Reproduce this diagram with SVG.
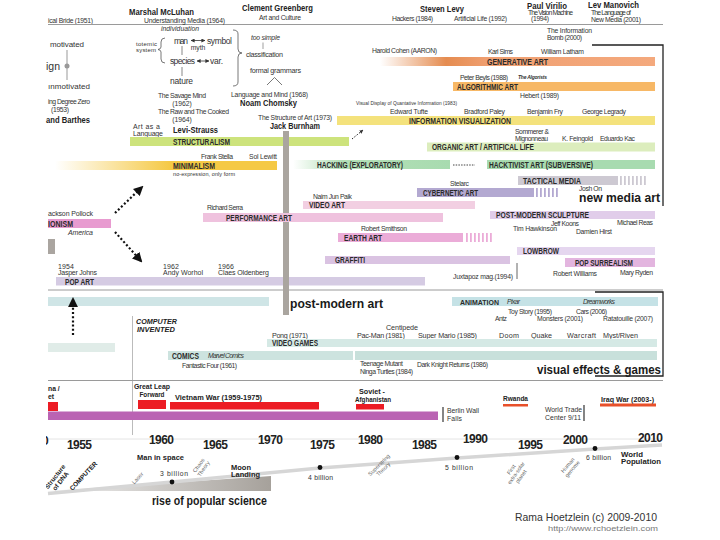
<svg xmlns="http://www.w3.org/2000/svg" width="720" height="540" viewBox="0 0 720 540">
<defs>
<style>
text{font-family:"Liberation Sans",Arial,sans-serif;fill:#333}
.s{font-size:6.8px}
.xs{font-size:5.5px}
.m{font-size:8px}
.b{font-weight:bold}
.i{font-style:italic}
.h{font-size:9.5px;font-weight:bold;fill:#222}
.bl{font-size:8.8px;font-weight:bold;fill:#2a2a2a}
.big{font-size:13.5px;font-weight:bold;fill:#1a1a1a}
.yr{font-size:12px;font-weight:bold;fill:#222}
.g{fill:#666}
.sep{stroke:#9a9a9a;stroke-width:1}
.box{fill:none;stroke:#222;stroke-width:1.3}
.dash{fill:none;stroke:#111;stroke-width:2.2;stroke-dasharray:2 2.2}
.thin{stroke:#555;stroke-width:0.8;fill:none}
.red{fill:#ec1c24}
.dot{fill:#111}
.ev{font-size:6.8px;font-weight:bold;fill:#222}
</style>
<marker id="tri" viewBox="0 0 10 10" refX="8" refY="5" markerWidth="4.5" markerHeight="4.5" orient="auto"><path d="M0,0 L10,5 L0,10 z" fill="#111"/></marker>
<marker id="sm" viewBox="0 0 10 10" refX="9" refY="5" markerWidth="4" markerHeight="4" markerUnits="userSpaceOnUse" orient="auto-start-reverse"><path d="M0,0 L10,5 L0,10 z" fill="#333"/></marker>
<linearGradient id="gMin" x1="0" x2="1" y1="0" y2="0"><stop offset="0" stop-color="#fff"/><stop offset="0.52" stop-color="#f5c945"/><stop offset="1" stop-color="#f5c945"/></linearGradient>
<linearGradient id="gHack" x1="0" x2="1" y1="0" y2="0"><stop offset="0" stop-color="#fff"/><stop offset="0.3" stop-color="#b4e0b7"/><stop offset="1" stop-color="#a8dbb0"/></linearGradient>
<linearGradient id="gGen" x1="0" x2="1" y1="0" y2="0"><stop offset="0" stop-color="#fff"/><stop offset="0.24" stop-color="#e58c50"/><stop offset="0.4" stop-color="#f0a072"/><stop offset="1" stop-color="#f4a97d"/></linearGradient>
<linearGradient id="gSci" x1="0" x2="1" y1="0" y2="0"><stop offset="0" stop-color="#f2f2f2"/><stop offset="1" stop-color="#a6a19b"/></linearGradient>
<clipPath id="frame"><rect x="46" y="0" width="674" height="540"/></clipPath>
</defs>
<rect width="720" height="540" fill="#fff"/>

<g id="header">
<text class="s" x="48" y="22.5" textLength="45">ical Bride (1951)</text>
<line class="sep" x1="48" y1="24.5" x2="663" y2="24.5" stroke="#888"/>
<text class="h" x="129" y="15" textLength="65" lengthAdjust="spacingAndGlyphs">Marshal McLuhan</text>
<text class="s" x="144" y="22.5" textLength="81">Understanding Media (1964)</text>
<text class="s i" x="161" y="31" textLength="38">individuation</text>
<text class="h" x="242" y="10.5" textLength="71" lengthAdjust="spacingAndGlyphs">Clement Greenberg</text>
<text class="s" x="259" y="20" textLength="42">Art and Culture</text>
<text class="h" x="420" y="11.5" textLength="44" lengthAdjust="spacingAndGlyphs">Steven Levy</text>
<text class="s" x="392" y="21" textLength="41">Hackers (1984)</text>
<text class="s" x="454" y="21" textLength="53">Artificial Life (1992)</text>
<text class="h" x="527" y="8.5" textLength="40" lengthAdjust="spacingAndGlyphs">Paul Virilio</text>
<text class="s" x="528" y="15" textLength="45">The Vision Machine</text>
<text class="s" x="531" y="21" textLength="18">(1994)</text>
<text class="h" x="588" y="8.3" textLength="51" lengthAdjust="spacingAndGlyphs">Lev Manovich</text>
<text class="s" x="591" y="15.3" textLength="40">The Language of</text>
<text class="s" x="591" y="22.3" textLength="50">New Media (2001)</text>
<text class="s" x="547" y="32.5" textLength="45">The Information</text>
<text class="s" x="547" y="39.5" textLength="35">Bomb (2000)</text>
</g>

<g id="semiotics">
<text class="m" x="50" y="47.3" textLength="34">motivated</text>
<text x="46" y="69.5" style="font-size:10.5px" textLength="14">ign</text>
<line x1="67" y1="50" x2="67" y2="80" stroke="#999" stroke-width="1"/>
<circle cx="67" cy="66" r="2.5" fill="#999"/>
<text class="m" x="48" y="89" textLength="42">ınmotivated</text>
<text class="s" x="48" y="103.5" textLength="42">ing Degree Zero</text>
<text class="s" x="51" y="111.5" textLength="18">(1953)</text>
<text class="h" x="46" y="122.5" textLength="44" lengthAdjust="spacingAndGlyphs">and Barthes</text>
</g>

<g id="levi-strauss">
<text style="font-size:6px" x="136" y="45.5" textLength="21">totemic</text>
<text style="font-size:6px" x="136" y="51.5" textLength="20">system</text>
<path class="thin" d="M165,38 Q161,38 161,42 L161,47 Q161,49 158,49.5 Q161,50 161,52 L161,59 Q161,63 165,63"/>
<text style="font-size:8.5px" x="174" y="43.5" textLength="14">man</text>
<line x1="191" y1="40.5" x2="205" y2="40.5" stroke="#333" stroke-width="0.8" marker-start="url(#sm)" marker-end="url(#sm)"/>
<text style="font-size:8.5px" x="207" y="43.5" textLength="25">symbol</text>
<text class="s" x="198" y="50.3" text-anchor="middle">myth</text>
<line x1="182" y1="46" x2="182" y2="55" stroke="#555" stroke-width="0.7"/>
<text style="font-size:8.5px" x="170" y="64" textLength="25">species</text>
<line x1="197" y1="61" x2="209" y2="61" stroke="#333" stroke-width="0.8" marker-start="url(#sm)" marker-end="url(#sm)"/>
<text style="font-size:8.5px" x="210" y="64" textLength="13">var.</text>
<line x1="182" y1="67" x2="182" y2="76" stroke="#555" stroke-width="0.7"/>
<text style="font-size:8.5px" x="170" y="84" textLength="23">nature</text>
<path class="thin" d="M233,30 Q238,30 238,34 L238,49 Q238,53 242,53 Q238,53 238,57 L238,82 Q238,86 233,86"/>
<text class="s" x="158" y="97.5" textLength="48">The Savage Mind</text>
<text class="s" x="182" y="105.5" text-anchor="middle">(1962)</text>
<text class="s" x="158" y="114" textLength="71">The Raw and The Cooked</text>
<text class="s" x="182" y="121.8" text-anchor="middle">(1964)</text>
<text style="font-size:7px" x="133" y="129" textLength="27">Art as a</text>
<text style="font-size:7px" x="133" y="135.8" textLength="30">Language</text>
<text class="h" x="173" y="132.5" textLength="45" lengthAdjust="spacingAndGlyphs">Levi-Strauss</text>
<rect x="130" y="137" width="219" height="9" fill="#cde37c"/>
<text class="bl" x="173" y="145" textLength="57" lengthAdjust="spacingAndGlyphs">STRUCTURALISM</text>
</g>

<g id="greenberg">
<text class="s i" x="251" y="40" textLength="29">too simple</text>
<line x1="263" y1="42.5" x2="263" y2="49" stroke="#777" stroke-width="0.7"/>
<text style="font-size:7.2px" x="246" y="56.5" textLength="37">classification</text>
<text style="font-size:7.2px" x="250" y="72.5" textLength="51">formal grammars</text>
<path class="thin" d="M267,85 L274.5,77.5 L282,85"/>
<text class="s" x="231" y="96.5" textLength="77">Language and Mind (1968)</text>
<text class="h" x="240" y="106" textLength="57" lengthAdjust="spacingAndGlyphs">Noam Chomsky</text>
<text class="s" x="295" y="120" text-anchor="middle" textLength="74">The Structure of Art (1973)</text>
<text class="h" x="295" y="129" text-anchor="middle" textLength="50" lengthAdjust="spacingAndGlyphs">Jack Burnham</text>
</g>

<g id="minimalism">
<rect x="55" y="161" width="222" height="9" fill="url(#gMin)"/>
<text class="bl" x="173" y="168.8" textLength="42" lengthAdjust="spacingAndGlyphs">MINIMALISM</text>
<text style="font-size:5.5px" x="173" y="176" textLength="62">no-expression, only form</text>
<text class="s" x="201" y="158.5" textLength="32">Frank Stella</text>
<text class="s" x="249" y="158.5" textLength="28">Sol Lewitt</text>
</g>

<g id="generative">
<rect x="380" y="57" width="275" height="9" fill="url(#gGen)"/>
<text class="bl" x="487" y="64.8" textLength="61" lengthAdjust="spacingAndGlyphs">GENERATIVE ART</text>
<text class="s" x="372" y="53.3" textLength="65">Harold Cohen (AARON)</text>
<text class="s" x="488" y="54.3" textLength="25">Karl Sims</text>
<text class="s" x="541" y="54.3" textLength="43">William Latham</text>
</g>

<g id="algorithmic">
<rect x="453" y="82" width="202" height="9" fill="#f7b866"/>
<text class="bl" x="457" y="89.8" textLength="61" lengthAdjust="spacingAndGlyphs">ALGORITHMIC ART</text>
<text class="s" x="460" y="79.5" textLength="48">Peter Beyls (1988)</text>
<text style="font-size:5px;font-weight:bold;font-style:italic" x="518" y="79" textLength="29">The Algorists</text>
<text class="s" x="520" y="98.3" textLength="39">Hebert (1989)</text>
</g>

<g id="infovis">
<text style="font-size:4.8px" x="356" y="104.5" textLength="101">Visual Display of Quantative Information (1983)</text>
<text class="s" x="390" y="114" textLength="38">Edward Tufte</text>
<text class="s" x="464" y="114" textLength="41">Bradford Paley</text>
<text class="s" x="527" y="114" textLength="36">Benjamin Fry</text>
<text class="s" x="582" y="114" textLength="44">George Legrady</text>
<rect x="337" y="116" width="318" height="9" fill="#f4e27c"/>
<text class="bl" x="409" y="123.8" textLength="102" lengthAdjust="spacingAndGlyphs">INFORMATION VISUALIZATION</text>
</g>

<g id="organic">
<text class="s" x="515" y="134.3" textLength="34">Sommerer &amp;</text>
<text class="s" x="515" y="141.3" textLength="33">Mignonneau</text>
<text class="s" x="562" y="141.3" textLength="31">K. Feingold</text>
<text class="s" x="600" y="141.3" textLength="35">Eduardo Kac</text>
<rect x="427" y="142.5" width="228" height="9" fill="#dcedbd"/>
<text class="bl" x="432" y="150.3" textLength="102" lengthAdjust="spacingAndGlyphs">ORGANIC ART / ARTIFICAL LIFE</text>
</g>

<g id="hacking">
<rect x="293" y="160" width="157" height="9" fill="url(#gHack)"/>
<text class="bl" x="317" y="167.8" textLength="86" lengthAdjust="spacingAndGlyphs">HACKING (EXPLORATORY)</text>
<rect x="487" y="160" width="168" height="9" fill="#a8dbb0"/>
<text class="bl" x="489" y="167.8" textLength="104" lengthAdjust="spacingAndGlyphs">HACKTIVIST ART (SUBVERSIVE)</text>
</g>

<g id="newmedia">
<rect x="518" y="176" width="100" height="9" fill="#cdc9d2"/>
<g fill="#cdc9d2"><rect x="620" y="176" width="1.8" height="9"/><rect x="624" y="176" width="1.8" height="9"/><rect x="628" y="176" width="1.8" height="9"/><rect x="632" y="176" width="1.8" height="9"/><rect x="636" y="176" width="1.8" height="9"/><rect x="640" y="176" width="1.8" height="9"/><rect x="644" y="176" width="1.8" height="9"/></g>
<text class="bl" x="523" y="183.8" textLength="58" lengthAdjust="spacingAndGlyphs">TACTICAL MEDIA</text>
<text class="s" x="579" y="190.5" textLength="23">Josh On</text>
<text class="s" x="450" y="186.3" textLength="19">Stelarc</text>
<rect x="417" y="188" width="117" height="9" fill="#b3a9d1"/>
<g fill="#b3a9d1"><rect x="536" y="188" width="1.8" height="9"/><rect x="540" y="188" width="1.8" height="9"/><rect x="544" y="188" width="1.8" height="9"/><rect x="548" y="188" width="1.8" height="9"/><rect x="552" y="188" width="1.8" height="9"/><rect x="556" y="188" width="1.8" height="9"/></g>
<text class="bl" x="423" y="196" textLength="55" lengthAdjust="spacingAndGlyphs">CYBERNETIC ART</text>
<text class="big" x="579" y="202" textLength="81" lengthAdjust="spacingAndGlyphs">new media art</text>
<path class="box" d="M592,45 L663,45 L663,206"/>
</g>

<g id="expressionism">
<text style="font-size:7px" x="48" y="215.5" textLength="45">ackson Pollock</text>
<rect x="48" y="219" width="63" height="9" fill="#e89bd0"/>
<text class="bl" x="48" y="226.6" textLength="25" lengthAdjust="spacingAndGlyphs">IONISM</text>
<text style="font-size:7px;font-style:italic" x="68" y="235" textLength="25">America</text>
<rect x="48" y="239" width="7" height="15" fill="#aaa5a0"/>
</g>

<g id="popart">
<text style="font-size:7px" x="58" y="268.5" textLength="16">1954</text>
<text style="font-size:7px" x="58" y="274.8" textLength="39">Jasper Johns</text>
<text style="font-size:7px" x="163" y="268.5" textLength="16">1962</text>
<text style="font-size:7px" x="163" y="274.8" textLength="40">Andy Worhol</text>
<text style="font-size:7px" x="218" y="268.5" textLength="16">1966</text>
<text style="font-size:7px" x="218" y="274.8" textLength="51">Claes Oldenberg</text>
<rect x="56" y="277" width="369" height="8.5" fill="#d5cbe3"/>
<text class="bl" x="65" y="284.5" textLength="29" lengthAdjust="spacingAndGlyphs">POP ART</text>
</g>

<g id="postmodern">
<rect x="283" y="131" width="6" height="184" fill="#aaa59f"/>
<text class="s" x="313" y="198.5" textLength="39">Naim Jun Paik</text>
<rect x="303" y="201" width="172" height="8" fill="#f2cfe2"/>
<text class="bl" x="309" y="208.3" textLength="36" lengthAdjust="spacingAndGlyphs">VIDEO ART</text>
<text class="s" x="207" y="209.5" textLength="36">Richard Serra</text>
<rect x="203" y="213" width="240" height="9" fill="#efc2de"/>
<text class="bl" x="226" y="220.6" textLength="66" lengthAdjust="spacingAndGlyphs">PERFORMANCE ART</text>
<text class="s" x="361" y="231.3" textLength="46">Robert Smithson</text>
<rect x="338" y="233" width="125" height="9" fill="#ebacd8"/>
<g fill="#ebacd8"><rect x="466" y="233" width="1.8" height="9"/><rect x="470" y="233" width="1.8" height="9"/><rect x="474" y="233" width="1.8" height="9"/><rect x="478" y="233" width="1.8" height="9"/><rect x="482" y="233" width="1.8" height="9"/><rect x="486" y="233" width="1.8" height="9"/><rect x="490" y="233" width="1.8" height="9"/></g>
<text class="bl" x="344" y="240.8" textLength="38" lengthAdjust="spacingAndGlyphs">EARTH ART</text>
<rect x="325" y="256" width="185" height="8" fill="#dac3e2"/>
<text class="bl" x="335" y="263.3" textLength="30" lengthAdjust="spacingAndGlyphs">GRAFFITI</text>
<text class="s" x="453" y="279.3" textLength="60">Juxtapoz  mag.(1994)</text>
<line x1="517" y1="263" x2="517" y2="279" stroke="#555" stroke-width="0.9"/>
<rect x="490" y="211" width="165" height="8" fill="#e1cdea"/>
<text class="bl" x="496" y="218.3" textLength="93" lengthAdjust="spacingAndGlyphs">POST-MODERN SCULPTURE</text>
<text class="s" x="551" y="225.5" textLength="28">Jeff Koons</text>
<text class="s" x="513" y="230.5" textLength="44">Tim Hawkinson</text>
<text class="s" x="576" y="234.3" textLength="36">Damien Hirst</text>
<text class="s" x="617" y="225" textLength="36">Michael Reas</text>
<rect x="517" y="247" width="138" height="8" fill="#e5d6ef"/>
<text class="bl" x="523" y="254.3" textLength="36" lengthAdjust="spacingAndGlyphs">LOWBROW</text>
<rect x="565" y="258" width="90" height="9" fill="#e3b5df"/>
<text class="bl" x="575" y="265.6" textLength="58" lengthAdjust="spacingAndGlyphs">POP SURREALISM</text>
<text class="s" x="553" y="276.3" textLength="44">Robert Williams</text>
<text class="s" x="620" y="275.3" textLength="33">Mary Ryden</text>
</g>

<g id="separator1">
<line class="sep" x1="48" y1="290" x2="663" y2="290"/>
<rect x="283" y="286" width="6" height="29" fill="#aaa59f"/>
<text class="big" x="290" y="307.5" textLength="93" lengthAdjust="spacingAndGlyphs">post-modern art</text>
<rect x="48" y="297" width="221" height="9" fill="#cfe5e6"/>
<rect x="48" y="343" width="67" height="9" fill="#e0ece8"/>
<line x1="132.5" y1="316" x2="132.5" y2="435" stroke="#bbb" stroke-width="1"/>
<text style="font-size:8px;font-weight:bold;font-style:italic;fill:#222" x="136" y="324" textLength="41" lengthAdjust="spacingAndGlyphs">COMPUTER</text>
<text style="font-size:8px;font-weight:bold;font-style:italic;fill:#222" x="137" y="331.5" textLength="38" lengthAdjust="spacingAndGlyphs">INVENTED</text>
</g>

<g id="vfx">
<rect x="452" y="297" width="206" height="9" fill="#c5e2e6"/>
<text class="bl" x="460" y="304.6" style="font-size:8px" textLength="39" lengthAdjust="spacingAndGlyphs">ANIMATION</text>
<text class="s i" x="507" y="304.3" textLength="13">Pixar</text>
<text class="s i" x="583" y="304.3" textLength="32">Dreamworks</text>
<text class="s" x="508" y="314" textLength="44">Toy Story (1995)</text>
<text class="s" x="576" y="314" textLength="31">Cars (2006)</text>
<text class="s" x="495" y="320.5" textLength="12">Antz</text>
<text class="s" x="537" y="320.5" textLength="46">Monsters (2001)</text>
<text class="s" x="603" y="320.5" textLength="50">Ratatouille (2007)</text>
<text style="font-size:7.2px" x="272" y="337.5" textLength="36">Pong (1971)</text>
<text style="font-size:7.2px" x="386" y="330" textLength="32">Centipede</text>
<text style="font-size:7.2px" x="357" y="337.5" textLength="48">Pac-Man (1981)</text>
<text style="font-size:7.2px" x="418" y="337.5" textLength="59">Super Mario (1985)</text>
<text style="font-size:7.2px" x="499" y="337.5" textLength="20">Doom</text>
<text style="font-size:7.2px" x="531" y="337.5" textLength="21">Quake</text>
<text style="font-size:7.2px" x="567" y="337.5" textLength="29">Warcraft</text>
<text style="font-size:7.2px" x="603" y="337.5" textLength="35">Myst/Riven</text>
<rect x="267" y="339" width="390" height="8" fill="#d5e9e5"/>
<text class="bl" x="272" y="346.3" textLength="46" lengthAdjust="spacingAndGlyphs">VIDEO GAMES</text>
<rect x="168" y="351" width="185" height="9" fill="#cde3df"/>
<rect x="355" y="351" width="302" height="9" fill="#c8e0db"/>
<text class="bl" x="172" y="358.6" textLength="27" lengthAdjust="spacingAndGlyphs">COMICS</text>
<text class="s i" x="208" y="358.3" textLength="36">Marvel Comics</text>
<text class="s" x="182" y="368.3" textLength="55">Fantastic Four (1961)</text>
<text class="s" x="360" y="366.3" textLength="43">Teenage Mutant</text>
<text class="s" x="360" y="374" textLength="53">Ninga Turtles (1984)</text>
<text class="s" x="417" y="367.3" textLength="71">Dark Knight Returns (1986)</text>
<text class="big" x="537" y="373.5" textLength="124" lengthAdjust="spacingAndGlyphs">visual effects &amp; games</text>
<path class="box" d="M595,292 L663,292 L663,376 L595,376"/>
<line class="sep" x1="48" y1="380.5" x2="663" y2="380.5"/>
</g>

<g id="events">
<text class="ev" x="48" y="391.3">na /</text>
<text class="ev" x="48" y="399.3">et</text>
<rect class="red" x="48" y="402" width="10" height="9"/>
<text class="ev" x="134" y="389" textLength="36" lengthAdjust="spacingAndGlyphs">Great Leap</text>
<text class="ev" x="152" y="396.8" text-anchor="middle" textLength="25" lengthAdjust="spacingAndGlyphs">Forward</text>
<rect class="red" x="138" y="400" width="28" height="9"/>
<text class="ev" x="175" y="399.5" style="font-size:7.2px" textLength="87" lengthAdjust="spacingAndGlyphs">Vietnam War  (1959-1975)</text>
<rect class="red" x="170" y="402" width="149" height="7.5"/>
<text class="ev" x="359" y="393.6" textLength="26" lengthAdjust="spacingAndGlyphs">Soviet -</text>
<text class="ev" x="355" y="401.5" textLength="36" lengthAdjust="spacingAndGlyphs">Afghanistan</text>
<rect class="red" x="356" y="404" width="28" height="5.5"/>
<rect x="48" y="411.5" width="390" height="8.5" fill="#ba63b3"/>
<line x1="443" y1="407" x2="443" y2="422" stroke="#444" stroke-width="1.3"/>
<text class="s" x="447" y="413.3" textLength="32">Berlin Wall</text>
<text class="s" x="447" y="421.3" textLength="15">Falls</text>
<text class="ev" x="503" y="400.5" style="font-size:7.2px" textLength="25" lengthAdjust="spacingAndGlyphs">Rwanda</text>
<rect x="503" y="404" width="25" height="2.5" fill="#e8502a"/>
<text class="s" x="545" y="411.8" textLength="37">World Trade</text>
<text class="s" x="545" y="419.8" textLength="36">Center 9/11</text>
<line x1="584" y1="405" x2="584" y2="421" stroke="#333" stroke-width="1.2"/>
<text class="ev" x="601" y="401.5" textLength="53" lengthAdjust="spacingAndGlyphs">Iraq War (2003-)</text>
<rect x="600" y="403.5" width="56" height="3" fill="#e8502a"/>
</g>

<g id="timeline">
<line x1="48" y1="439" x2="663" y2="439" stroke="#e4e4e4" stroke-width="1"/>
<g clip-path="url(#frame)"><text class="yr" x="42" y="445">0</text></g>
<text class="yr" x="67" y="448.5" textLength="25">1955</text>
<text class="yr" x="149" y="444" textLength="25">1960</text>
<text class="yr" x="203" y="448.5" textLength="25">1965</text>
<text class="yr" x="258" y="443.5" textLength="25">1970</text>
<text class="yr" x="310" y="448.5" textLength="25">1975</text>
<text class="yr" x="358" y="443.5" textLength="25">1980</text>
<text class="yr" x="412" y="448.5" textLength="25">1985</text>
<text class="yr" x="463" y="443" textLength="25">1990</text>
<text class="yr" x="518" y="448.5" textLength="25">1995</text>
<text class="yr" x="563" y="443.5" textLength="25">2000</text>
<text class="yr" x="638" y="442" textLength="25">2010</text>
</g>

<g id="science">
<polygon points="48,491 271,476 271,491" fill="url(#gSci)"/>
<polyline points="48,493.5 172,482 320,468 457,458 595,449 662,445" fill="none" stroke="#d6d6d6" stroke-width="3.5"/>
<circle class="dot" cx="172" cy="482" r="2.4"/>
<circle class="dot" cx="320" cy="467.5" r="2.4"/>
<circle class="dot" cx="457" cy="457.5" r="2.4"/>
<circle class="dot" cx="595" cy="448.5" r="2.4"/>
<text class="s" x="160" y="475.5" textLength="28">3 billion</text>
<text class="s" x="308" y="479.5" textLength="25">4 billion</text>
<text class="s" x="445" y="469.5" textLength="28">5 billion</text>
<text class="s" x="586" y="459.5" textLength="25">6 billion</text>
<text style="font-size:7.5px;font-weight:bold;fill:#222" x="621" y="456.5" textLength="22" lengthAdjust="spacingAndGlyphs">World</text>
<text style="font-size:7.5px;font-weight:bold;fill:#222" x="621" y="464" textLength="40" lengthAdjust="spacingAndGlyphs">Population</text>
<text style="font-size:8px;font-weight:bold;fill:#222" x="137" y="460" textLength="47" lengthAdjust="spacingAndGlyphs">Man in space</text>
<text style="font-size:8px;font-weight:bold;fill:#222" x="231" y="469.5" textLength="20" lengthAdjust="spacingAndGlyphs">Moon</text>
<text style="font-size:8px;font-weight:bold;fill:#222" x="231" y="477" textLength="29" lengthAdjust="spacingAndGlyphs">Landing</text>
<text class="big" x="152" y="504.5" textLength="115" lengthAdjust="spacingAndGlyphs">rise of popular science</text>
<g clip-path="url(#frame)"><g transform="translate(58,479) rotate(-52)"><text style="font-size:6.5px;font-weight:bold;fill:#222" x="0" y="-1.5" text-anchor="middle">Structure</text><text style="font-size:6.5px;font-weight:bold;fill:#222" x="0" y="5.5" text-anchor="middle">of DNA</text></g></g>
<text style="font-size:6.5px;font-weight:bold;fill:#222" transform="translate(85,477.5) rotate(-47)" text-anchor="middle" textLength="37" lengthAdjust="spacingAndGlyphs">COMPUTER</text>
<text class="xs g" transform="translate(139,479.5) rotate(-47)" text-anchor="middle">Laser</text>
<g transform="translate(201,467) rotate(-55)"><text class="xs g" x="0" y="-1" text-anchor="middle">Chaos</text><text class="xs g" x="0" y="5" text-anchor="middle">Theory</text></g>
<g transform="translate(381,467) rotate(-45)"><text class="xs g" x="0" y="-1" text-anchor="middle">Superstring</text><text class="xs g" x="0" y="5" text-anchor="middle">Theory</text></g>
<g transform="translate(516,473) rotate(-55)"><text class="xs g" x="0" y="-4" text-anchor="middle">First</text><text class="xs g" x="0" y="2" text-anchor="middle">extra-solar</text><text class="xs g" x="0" y="8" text-anchor="middle">planet</text></g>
<g transform="translate(570,467) rotate(-50)"><text class="xs g" x="0" y="-1" text-anchor="middle">Human</text><text class="xs g" x="0" y="5" text-anchor="middle">genome</text></g>
</g>

<g id="connectors">
<line class="dash" x1="115" y1="213" x2="142" y2="187" marker-end="url(#tri)"/>
<line class="dash" x1="115" y1="232" x2="141" y2="261" marker-end="url(#tri)"/>
<line class="dash" x1="73" y1="335" x2="73" y2="299" marker-end="url(#tri)"/>
<line x1="352" y1="139" x2="363" y2="130" stroke="#222" stroke-width="1" stroke-dasharray="1.5 1.5" marker-end="url(#sm)"/>
<line x1="453" y1="165" x2="475" y2="165" stroke="#444" stroke-width="1" stroke-dasharray="1.5 1.2"/>
</g>

<g id="credits">
<text x="515" y="521" style="font-size:11.5px" textLength="142" lengthAdjust="spacingAndGlyphs">Rama Hoetzlein (c) 2009-2010</text>
<text x="548" y="531" style="font-size:8px;fill:#777" textLength="110" lengthAdjust="spacingAndGlyphs">http://www.rchoetzlein.com</text>
</g>
</svg>
